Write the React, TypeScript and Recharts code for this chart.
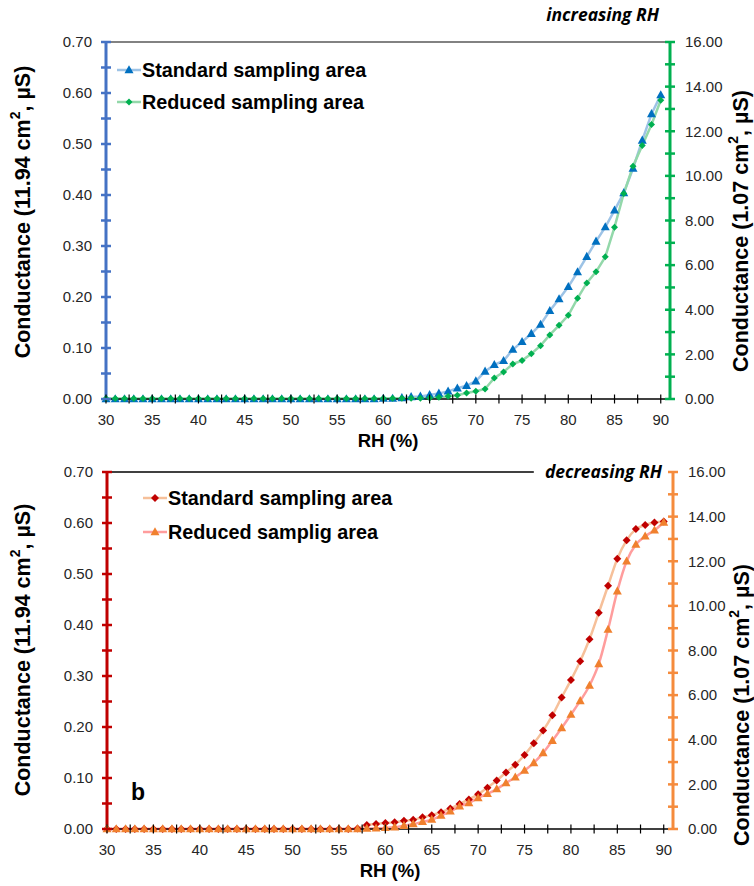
import { Legend, Line, LineChart, ReferenceLine, XAxis, YAxis } from "recharts";

// RH steps, one point per %RH
const RH = [
  30, 31, 32, 33, 34, 35, 36, 37, 38, 39, 40, 41, 42, 43, 44, 45, 46, 47, 48, 49, 50, 51, 52, 53, 54, 55, 56, 57, 58, 59,
  60, 61, 62, 63, 64, 65, 66, 67, 68, 69, 70, 71, 72, 73, 74, 75, 76, 77, 78, 79, 80, 81, 82, 83, 84, 85, 86, 87, 88, 89, 90,
];

// (a) increasing RH
const incStandard = [
  0, 0, 0, 0, 0, 0, 0, 0, 0, 0, 0, 0, 0, 0, 0, 0, 0, 0, 0, 0, 0, 0, 0, 0, 0, 0, 0, 0, 0, 0,
  0.001, 0.001, 0.002, 0.004, 0.005, 0.008, 0.011, 0.015, 0.021, 0.026, 0.035, 0.054, 0.067, 0.075, 0.097, 0.112,
  0.128, 0.146, 0.173, 0.196, 0.22, 0.249, 0.279, 0.309, 0.337, 0.37, 0.404, 0.452, 0.507, 0.559, 0.596,
];
const incReduced = [
  0.02, 0.02, 0.02, 0.02, 0.02, 0.02, 0.02, 0.02, 0.02, 0.02, 0.02, 0.02, 0.02, 0.02, 0.02, 0.02, 0.02, 0.02, 0.02, 0.02,
  0.02, 0.02, 0.02, 0.02, 0.02, 0.02, 0.02, 0.02, 0.02, 0.02,
  0.03, 0.03, 0.03, 0.03, 0.03, 0.04, 0.08, 0.12, 0.17, 0.27, 0.35, 0.45, 0.94, 1.21, 1.57, 1.72, 2.03, 2.39, 2.87, 3.3,
  3.75, 4.51, 5.2, 5.7, 6.37, 7.7, 9.21, 10.43, 11.36, 12.3, 13.39,
];

// (b) decreasing RH
const decStandard = [
  0, 0, 0, 0, 0, 0, 0, 0, 0, 0, 0, 0, 0, 0, 0, 0, 0, 0, 0, 0, 0, 0, 0, 0, 0, 0, 0,
  0.001, 0.008, 0.01, 0.012, 0.013, 0.016, 0.018, 0.023, 0.027, 0.033, 0.04, 0.049, 0.058, 0.068, 0.081, 0.095, 0.111,
  0.126, 0.145, 0.168, 0.193, 0.223, 0.258, 0.292, 0.329, 0.372, 0.424, 0.477, 0.53, 0.566, 0.588, 0.596, 0.601, 0.603,
];
const decReduced = [
  0, 0, 0, 0, 0, 0, 0, 0, 0, 0, 0, 0, 0, 0, 0, 0, 0, 0, 0, 0, 0, 0, 0, 0, 0, 0, 0, 0,
  0.02, 0.03, 0.05, 0.08, 0.15, 0.22, 0.32, 0.42, 0.6, 0.79, 1.02, 1.17, 1.39, 1.58, 1.79, 2.06, 2.32, 2.62, 2.96, 3.41,
  3.96, 4.53, 5.13, 5.74, 6.43, 7.4, 8.94, 10.66, 12.0, 12.75, 13.12, 13.39, 13.74,
];

const leftTicks = [0, 0.05, 0.1, 0.15, 0.2, 0.25, 0.3, 0.35, 0.4, 0.45, 0.5, 0.55, 0.6, 0.65, 0.7];
const rightTicks = [0, 1, 2, 3, 4, 5, 6, 7, 8, 9, 10, 11, 12, 13, 14, 15, 16];
const rhTicks = [30, 32.5, 35, 37.5, 40, 42.5, 45, 47.5, 50, 52.5, 55, 57.5, 60, 62.5, 65, 67.5, 70, 72.5, 75, 77.5, 80, 82.5, 85, 87.5, 90];

const FONT = "'Liberation Sans', Arial, sans-serif";
const GAP = 10;

const incData = RH.map((rh, i) => ({ rh, std: incStandard[i], red: incReduced[i] }));
const decData = RH.map((rh, i) => ({ rh, std: decStandard[i], red: decReduced[i] }));

function Marker({ shape, cx, cy, fill, size }: any) {
  if (cx == null || cy == null) return null;
  if (shape === "triangle") {
    const h = size * 0.9;
    return (
      <polygon
        points={`${cx},${cy - h * 0.6} ${cx + size / 2},${cy + h * 0.4} ${cx - size / 2},${cy + h * 0.4}`}
        fill={fill}
      />
    );
  }
  const r = size / 2;
  return <polygon points={`${cx},${cy - r} ${cx + r},${cy} ${cx},${cy + r} ${cx - r},${cy}`} fill={fill} />;
}

function YTick({ x, y, payload, side, color, step }: any) {
  const v = payload.value as number;
  const major = Math.abs(v / step - Math.round(v / step)) < 1e-6;
  const ax = side === "left" ? x + GAP : x - GAP;
  return (
    <g>
      <line x1={ax - 5} x2={ax + 5} y1={y} y2={y} stroke={color} strokeWidth={2.5} />
      {major && (
        <text
          x={side === "left" ? ax - 14 : ax + 15}
          y={y}
          dy="0.35em"
          textAnchor={side === "left" ? "end" : "start"}
          fontSize={15}
          fontFamily={FONT}
          fill="#262626"
        >
          {v.toFixed(2)}
        </text>
      )}
    </g>
  );
}

function XTick({ x, y, payload }: any) {
  const v = payload.value as number;
  const ay = y - GAP;
  return (
    <g>
      <line x1={x} x2={x} y1={ay - 4.5} y2={ay + 4.5} stroke="#000" strokeWidth={1.2} />
      {v % 5 === 0 && (
        <text x={x} y={ay + 26} textAnchor="middle" fontSize={15} fontFamily={FONT} fill="#262626">
          {v}
        </text>
      )}
    </g>
  );
}

function YTitle({ viewBox, cx, cy, area }: any) {
  const x = viewBox.x + cx;
  const y = cy;
  return (
    <text
      x={x}
      y={y}
      transform={`rotate(-90 ${x} ${y})`}
      textAnchor="middle"
      dominantBaseline="central"
      fontSize={21.5}
      fontWeight="bold"
      fontFamily={FONT}
      fill="#000"
    >
      {`Conductance (${area} cm`}
      <tspan dy={-8} fontSize={14}>
        2
      </tspan>
      <tspan dy={8}>, µS)</tspan>
    </text>
  );
}

function XTitle({ viewBox }: any) {
  return (
    <text
      x={viewBox.x + viewBox.width / 2}
      y={viewBox.y + 48}
      textAnchor="middle"
      fontSize={18.5}
      fontWeight="bold"
      fontFamily={FONT}
      fill="#000"
    >
      RH (%)
    </text>
  );
}

function LegendBox({ items, rowH, lineW }: any) {
  return (
    <div style={{ display: "flex", flexDirection: "column" }}>
      {items.map((it: any) => (
        <div key={it.name} style={{ display: "flex", alignItems: "center", height: rowH }}>
          <svg width={lineW} height={14} style={{ display: "block" }}>
            <line x1={0} x2={lineW} y1={7} y2={7} stroke={it.line} strokeWidth={2.5} />
            <Marker shape={it.shape} cx={lineW / 2} cy={7} fill={it.fill} size={it.size} />
          </svg>
          <span style={{ fontFamily: FONT, fontWeight: "bold", fontSize: 19.8, color: "#000", marginLeft: 1, whiteSpace: "nowrap" }}>
            {it.name}
          </span>
        </div>
      ))}
    </div>
  );
}

function Panel({ data, cfg }: any) {
  const { top, height, leftW, rightW, xH, leftColor, rightColor, series, legendPos, rowH, curve, yTitles } = cfg;
  return (
    <LineChart
      width={754}
      height={height}
      data={data}
      margin={{ top, right: 0, bottom: 0, left: 0 }}
      style={{ position: "absolute", left: 0, top: cfg.offsetY }}
    >
      <XAxis
        dataKey="rh"
        type="number"
        domain={[30, 91]}
        ticks={rhTicks}
        interval={0}
        height={xH}
        tickSize={0}
        tickMargin={GAP}
        axisLine={{ stroke: "#000", strokeWidth: 1.5 }}
        tick={(p: any) => <XTick {...p} />}
        label={{ content: (p: any) => <XTitle {...p} /> }}
      />
      <YAxis
        yAxisId="l"
        orientation="left"
        domain={[0, 0.7]}
        ticks={leftTicks}
        interval={0}
        width={leftW}
        tickSize={0}
        tickMargin={GAP}
        axisLine={{ stroke: leftColor, strokeWidth: 3 }}
        tick={(p: any) => <YTick {...p} side="left" color={leftColor} step={0.1} />}
        label={{ content: (p: any) => <YTitle {...p} cx={23} cy={yTitles[0]} area="11.94" /> }}
      />
      <YAxis
        yAxisId="r"
        orientation="right"
        domain={[0, 16]}
        ticks={rightTicks}
        interval={0}
        width={rightW}
        tickSize={0}
        tickMargin={GAP}
        axisLine={{ stroke: rightColor, strokeWidth: 3 }}
        tick={(p: any) => <YTick {...p} side="right" color={rightColor} step={2} />}
        label={{ content: (p: any) => <YTitle {...p} cx={cfg.rightTitleX} cy={yTitles[1]} area="1.07" /> }}
      />
      {cfg.topLine === "full" ? (
        <ReferenceLine yAxisId="l" y={0.7} stroke="#595959" strokeWidth={1.5} />
      ) : (
        <ReferenceLine
          yAxisId="r"
          segment={[
            { x: 30, y: 16 },
            { x: 76, y: 16 },
          ]}
          stroke="#000"
          strokeWidth={1.5}
        />
      )}
      {series.map((s: any) => (
        <Line
          key={s.key}
          yAxisId={s.axis}
          dataKey={s.key}
          name={s.name}
          type={curve}
          stroke={s.line}
          strokeWidth={2.5}
          isAnimationActive={false}
          dot={(p: any) => <Marker key={p.index} shape={s.shape} cx={p.cx} cy={p.cy} fill={s.fill} size={s.size} />}
          activeDot={false}
        />
      ))}
      <Legend
        layout="vertical"
        align="center"
        verticalAlign="middle"
        wrapperStyle={{ left: legendPos[0], top: legendPos[1], width: 340 }}
        content={() => <LegendBox items={series} rowH={rowH} lineW={legendPos[2]} />}
      />
    </LineChart>
  );
}

const incCfg = {
  offsetY: 0,
  top: 42,
  height: 452,
  leftW: 106,
  rightW: 84,
  xH: 53,
  leftColor: "#4472C4",
  rightColor: "#00B050",
  topLine: "full",
  curve: "linear",
  legendPos: [117, 54, 24],
  rowH: 32,
  yTitles: [212, 231],
  rightTitleX: 71,
  series: [
    { key: "std", axis: "l", name: "Standard sampling area", line: "#9DC3E6", fill: "#0070C0", shape: "triangle", size: 9 },
    { key: "red", axis: "r", name: "Reduced sampling area", line: "#93D8AA", fill: "#00B050", shape: "diamond", size: 7 },
  ],
};

const decCfg = {
  offsetY: 452,
  top: 20,
  height: 434,
  leftW: 107,
  rightW: 81,
  xH: 57,
  leftColor: "#C00000",
  rightColor: "#F58B3C",
  topLine: "part",
  curve: "monotone",
  legendPos: [143, 29, 24],
  rowH: 34,
  yTitles: [198, 253],
  rightTitleX: 69,
  series: [
    { key: "std", axis: "l", name: "Standard sampling area", line: "#F6C09A", fill: "#C00000", shape: "diamond", size: 8 },
    { key: "red", axis: "r", name: "Reduced samplig area", line: "#FF9D9D", fill: "#F0802E", shape: "triangle", size: 9 },
  ],
};

export default function App() {
  return (
    <div style={{ position: "absolute", left: 0, top: 0, width: 754, height: 886, background: "#fff" }}>
      <Panel data={incData} cfg={incCfg} />
      <Panel data={decData} cfg={decCfg} />
      <svg width={754} height={886} style={{ position: "absolute", left: 0, top: 0, pointerEvents: "none" }}>
        <text x={659} y={21} textAnchor="end" fontSize={17.5} fontWeight="bold" fontStyle="italic" fontFamily="'Open Sans', sans-serif">
          increasing RH
        </text>
        <text x={662} y={478} textAnchor="end" fontSize={17.5} fontWeight="bold" fontStyle="italic" fontFamily="'Open Sans', sans-serif">
          decreasing RH
        </text>
        <text x={131} y={800} fontSize={23} fontWeight="bold" fontFamily={FONT}>
          b
        </text>
      </svg>
    </div>
  );
}
